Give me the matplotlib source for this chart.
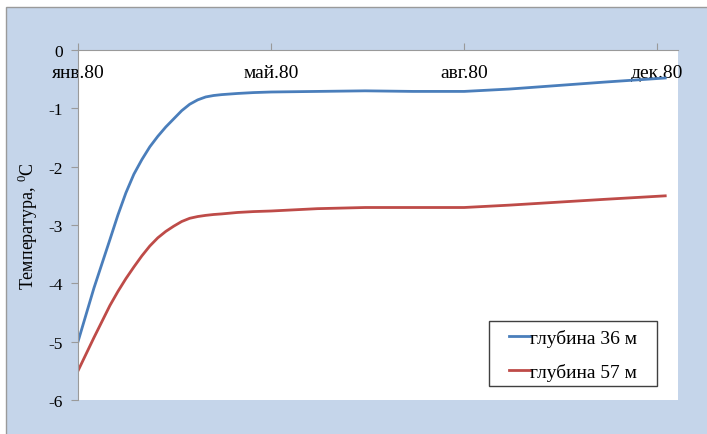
import matplotlib.pyplot as plt
from matplotlib.patches import Rectangle

# days from 01.01.1980
days = [0, 10, 20, 25, 30, 35, 40, 45, 50, 55, 60, 65, 70, 75, 80, 85, 90, 100, 110, 121,
        150, 180, 210, 242, 270, 300, 330, 368]
t36 = [-5.0, -4.08, -3.25, -2.83, -2.45, -2.13, -1.88, -1.66, -1.48, -1.32, -1.18, -1.04, -0.93,
       -0.855, -0.805, -0.78, -0.765, -0.745, -0.73, -0.72, -0.71, -0.70, -0.71, -0.71, -0.67,
       -0.61, -0.55, -0.48]
t57 = [-5.5, -4.93, -4.38, -4.14, -3.92, -3.72, -3.53, -3.36, -3.22, -3.11, -3.02, -2.94, -2.885,
       -2.855, -2.835, -2.82, -2.81, -2.785, -2.77, -2.76, -2.72, -2.70, -2.70, -2.70, -2.66,
       -2.61, -2.56, -2.50]
tick_days = [0, 121, 242, 363]
tick_labels = ['янв.80', 'май.80', 'авг.80', 'дек.80']

plt.rcParams['font.family'] = ['Liberation Serif', 'DejaVu Serif']
plt.rcParams['mathtext.fontset'] = 'custom'
plt.rcParams['mathtext.rm'] = 'Liberation Serif'

fig = plt.figure(figsize=(7.07, 4.35), dpi=100)
fig.patch.set_facecolor('white')
fig.patches.append(Rectangle((6 / 707, -0.1), 1.1, (435 - 8) / 435 + 0.1, transform=fig.transFigure,
                             facecolor='#c5d5ea', edgecolor='#9a9a9a', lw=1, zorder=-10))

ax = fig.add_axes([78 / 707, (435 - 401) / 435, 600 / 707, 350 / 435])
ax.set_zorder(1)
ax.plot(days, t36, color='#4a7ebb', lw=2, label='глубина 36 м')
ax.plot(days, t57, color='#be4b48', lw=2, label='глубина 57 м')

ax.set_xlim(0, 376)
ax.set_ylim(-6, 0)
ax.set_yticks(range(-6, 1))
ax.set_yticklabels([str(v) for v in range(-6, 1)])
for s in ['right', 'top']:
    ax.spines[s].set_visible(False)
ax.spines['bottom'].set_position(('data', 0))
ax.spines['bottom'].set_color('#9a9a9a')
ax.spines['left'].set_color('#9a9a9a')
ax.set_xticks(tick_days)
ax.set_xticklabels(tick_labels)
ax.tick_params(axis='x', direction='in', length=5, color='#9a9a9a', pad=10, labelsize=14)
ax.tick_params(axis='y', direction='out', length=5, color='#9a9a9a', pad=6, labelsize=12.5)
ax.set_ylabel('Температура, $^0$C', fontsize=13, labelpad=6)

# legend box drawn separately, entries centred inside it
ax.add_patch(Rectangle((411 / 600, 14 / 350), 168 / 600, 65 / 350, transform=ax.transAxes,
                       facecolor='white', edgecolor='#404040', lw=1, zorder=5))
leg = ax.legend(loc='center', bbox_to_anchor=(495 / 600, 45 / 350), borderaxespad=0,
                fontsize=14, frameon=False, handlelength=1.1, handletextpad=0.0,
                labelspacing=0.85, borderpad=0.2)
leg.set_zorder(6)

fig.savefig('out.png', dpi=100)
